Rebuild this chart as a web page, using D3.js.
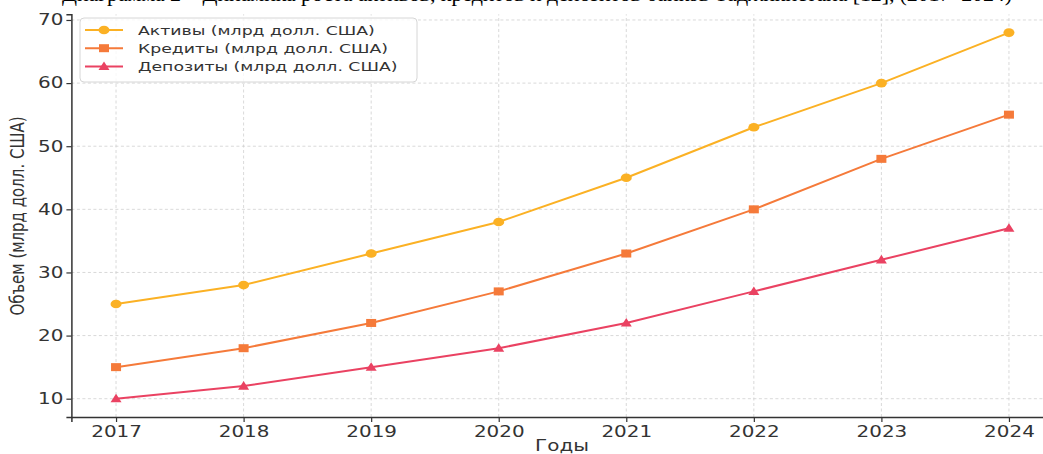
<!DOCTYPE html>
<meta charset="utf-8">
<style>
    body { margin: 0; background: #fff; }
    svg { display: block; }
    .tick text { fill: #333; }
</style>
<svg width="1043" height="454"></svg>
<script src="https://d3js.org/d3.v7.min.js"></script>
<script>

    var years = [2017, 2018, 2019, 2020, 2021, 2022, 2023, 2024];
    var assets = [25, 28, 33, 38, 45, 53, 60, 68];
    var loans = [15, 18, 22, 27, 33, 40, 48, 55];
    var deposits = [10, 12, 15, 18, 22, 27, 32, 37];
    var yTicks = [10, 20, 30, 40, 50, 60, 70];
    var seriesNames = ["Активы (млрд долл. США)", "Кредиты (млрд долл. США)", "Депозиты (млрд долл. США)"];
    var colors = ["#fbb124", "#f57a3a", "#ea4262"];
    var markers = ["circle", "square", "triangle"];

    var series = [assets, loans, deposits].map(function (vals, i) {
        return {name: seriesNames[i], color: colors[i], marker: markers[i],
            values: vals.map(function (v, j) { return [years[j], v]; })};
    });

    var svg = d3.select("svg"),
        sx = 1.33; // the picture is stretched sideways, text too

    var x = d3.scaleLinear()
        .domain([2016.65, 2024.35])
        .range([71.4, 1053.6]);

    var y = d3.scaleLinear()
        .domain([7.1, 70.9])
        .range([417, 14.3]);

    // title, cut off at the top in the original too
    svg.append("text")
        .attr("x", 537)
        .attr("y", 0.5)
        .attr("text-anchor", "middle")
        .attr("font-family", "Liberation Serif")
        .attr("font-size", 22)
        .attr("textLength", 950)
        .attr("fill", "#000")
        .text("Диаграмма 2 – Динамика роста активов, кредитов и депозитов банков Таджикистана [12], (2017–2024)");

    // grid
    var grid = svg.append("g")
        .attr("stroke", "#cfcfcf")
        .attr("stroke-width", 0.8)
        .attr("stroke-dasharray", "3,2.5");

    grid.selectAll(".gx")
        .data(years)
        .enter().append("line")
        .attr("x1", function (d) { return x(d); })
        .attr("x2", function (d) { return x(d); })
        .attr("y1", y.range()[0])
        .attr("y2", y.range()[1]);

    grid.selectAll(".gy")
        .data(yTicks)
        .enter().append("line")
        .attr("x1", x.range()[0])
        .attr("x2", x.range()[1])
        .attr("y1", function (d) { return y(d); })
        .attr("y2", function (d) { return y(d); });

    // axes
    var xAxis = svg.append("g")
        .attr("transform", "translate(0," + y.range()[0] + ")")
        .call(d3.axisBottom(x).tickValues(years).tickFormat(d3.format("d")).tickSize(5).tickPadding(4));

    var yAxis = svg.append("g")
        .attr("transform", "translate(" + x.range()[0] + ",0)")
        .call(d3.axisLeft(y).tickValues(yTicks).tickSize(5).tickPadding(3));

    [xAxis, yAxis].forEach(function (g) {
        g.select(".domain").attr("stroke", "#333").attr("stroke-width", 1.5);
        g.selectAll(".tick line").attr("stroke", "#333").attr("stroke-width", 1.2);
        g.selectAll(".tick text")
            .attr("font-family", "DejaVu Sans")
            .attr("font-size", 15);
    });

    xAxis.selectAll(".tick text")
        .attr("transform", "scale(" + sx + ",1)");
    yAxis.selectAll(".tick text")
        .attr("x", -8 / sx)
        .attr("transform", "scale(" + sx + ",1)");

    svg.append("text")
        .attr("transform", "translate(562,451) scale(" + sx + ",1)")
        .attr("text-anchor", "middle")
        .attr("font-family", "DejaVu Sans")
        .attr("font-size", 15)
        .attr("fill", "#333")
        .text("Годы");

    svg.append("text")
        .attr("transform", "translate(24,216) scale(" + sx + ",1) rotate(-90)")
        .attr("text-anchor", "middle")
        .attr("font-family", "DejaVu Sans")
        .attr("font-size", 15)
        .attr("fill", "#333")
        .text("Объем (млрд долл. США)");

    // markers
    function drawMarker(g, type, color) {
        if (type === "circle") {
            g.append("ellipse").attr("rx", 5.5).attr("ry", 4.3).attr("fill", color);
        } else if (type === "square") {
            g.append("rect").attr("x", -5).attr("y", -4).attr("width", 10).attr("height", 8).attr("fill", color);
        } else {
            g.append("path").attr("d", "M0,-5L5.5,3.6L-5.5,3.6Z").attr("fill", color);
        }
    }

    var line = d3.line()
        .x(function (d) { return x(d[0]); })
        .y(function (d) { return y(d[1]); });

    series.forEach(function (s) {
        svg.append("path")
            .datum(s.values)
            .attr("fill", "none")
            .attr("stroke", s.color)
            .attr("stroke-width", 2)
            .attr("stroke-linejoin", "round")
            .attr("d", line);

        svg.append("g").selectAll("g")
            .data(s.values)
            .enter().append("g")
            .attr("transform", function (d) { return "translate(" + x(d[0]) + "," + y(d[1]) + ")"; })
            .each(function () { drawMarker(d3.select(this), s.marker, s.color); });
    });

    // legend
    var legend = svg.append("g");
    legend.append("rect")
        .attr("x", 80)
        .attr("y", 18)
        .attr("width", 337)
        .attr("height", 64)
        .attr("rx", 4)
        .attr("fill", "#fff")
        .attr("fill-opacity", 0.8)
        .attr("stroke", "#d6d6d6");

    series.forEach(function (s, i) {
        var ly = 30 + i * 18.2;
        legend.append("line")
            .attr("x1", 85).attr("x2", 123)
            .attr("y1", ly).attr("y2", ly)
            .attr("stroke", s.color)
            .attr("stroke-width", 2);
        drawMarker(legend.append("g").attr("transform", "translate(104," + ly + ")"), s.marker, s.color);
        legend.append("text")
            .attr("transform", "translate(138," + (ly + 5) + ") scale(" + sx + ",1)")
            .attr("font-family", "DejaVu Sans")
            .attr("font-size", 13)
            .attr("fill", "#333")
            .text(s.name);
    });

</script>
